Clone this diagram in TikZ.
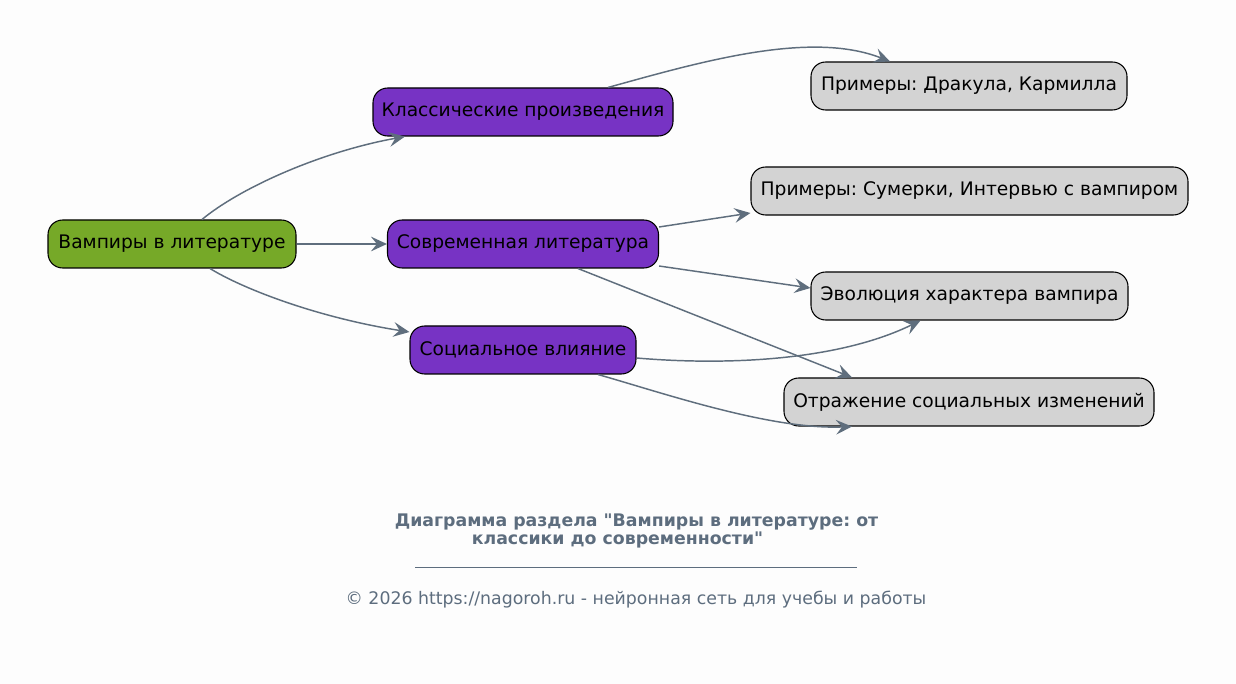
\documentclass[tikz,border=0pt]{standalone}
\usepackage{fontspec}
\setmainfont{DejaVu Sans}
\usetikzlibrary{arrows.meta,calc}
\definecolor{bgc}{HTML}{FDFDFD}
\definecolor{edgec}{HTML}{5F6E7D}
\definecolor{rootc}{HTML}{76A928}
\definecolor{midc}{HTML}{7733C4}
\definecolor{leafc}{HTML}{D3D3D3}
\definecolor{capc}{HTML}{5D6D7E}
\tikzset{
  box/.style={draw=black, line width=0.8pt, rounded corners=11pt, minimum height=36pt,
    inner sep=0pt, font=\fontsize{14pt}{16pt}\selectfont, text=black},
  rootbox/.style={box, fill=rootc},
  midbox/.style={box, fill=midc},
  leafbox/.style={box, fill=leafc},
  conn/.style={draw=edgec, line width=1.1pt, -{Stealth[length=12pt, width=11pt, inset=4.5pt]}},
  captext/.style={text=capc, font=\fontsize{13pt}{15pt}\selectfont\bfseries},
  foottext/.style={text=capc, font=\fontsize{13pt}{15pt}\selectfont},
}
\frenchspacing
\begin{document}
\begin{tikzpicture}[x=0.75pt, y=-0.75pt]
\fill[bgc] (0,0) rectangle (1236,684);
\useasboundingbox (0,0) rectangle (1236,684);

\node[rootbox, minimum width=186pt] (root) at (172,244) {Вампиры в литературе};
\node[midbox, minimum width=225pt] (klass) at (523,112) {Классические произведения};
\node[midbox, minimum width=203.25pt] (sovr) at (523,244) {Современная литература};
\node[midbox, minimum width=169.5pt] (soc) at (523,350) {Социальное влияние};
\node[leafbox, minimum width=237pt] (drak) at (969,86) {Примеры: Дракула, Кармилла};
\node[leafbox, minimum width=327.75pt] (sum) at (969.5,191) {Примеры: Сумерки, Интервью с вампиром};
\node[leafbox, minimum width=237.75pt] (evo) at (969.5,296) {Эволюция характера вампира};
\node[leafbox, minimum width=277.5pt] (otr) at (969,402) {Отражение социальных изменений};

\draw[conn] ($(root.north)+(30,0)$) .. controls (240,188) and (320,152) .. ($(klass.south)+(-118,0)$);
\draw[conn] (root.east) -- (sovr.west);
\draw[conn] ($(root.south)+(38,0)$) .. controls (245,290) and (320,318) .. ($(soc.west)+(0,-18)$);
\draw[conn] ($(klass.north)+(85,0)$) .. controls (700,62) and (810,30) .. ($(drak.north)+(-79,0)$);
\draw[conn] ($(sovr.east)+(0,-17)$) -- ($(sum.west)+(0,22)$);
\draw[conn] ($(sovr.east)+(0,22)$) -- ($(evo.west)+(0,-8)$);
\draw[conn] ($(sovr.south)+(55,0)$) -- ($(otr.north)+(-117,0)$);
\draw[conn] ($(soc.east)+(0,8)$) .. controls (730,366) and (840,360) .. ($(evo.south)+(-49,0)$);
\draw[conn] ($(soc.south)+(75,0)$) .. controls (660,392) and (770,430) .. ($(otr.south)+(-117,0)$);

\node[captext] (cap1) at (636.5,522) {Диаграмма раздела \textquotedbl Вампиры в литературе: от};
\node[captext] (cap2) at (617.5,540) {классики до современности\textquotedbl};
\coordinate (ulL) at (415,567);
\coordinate (ulR) at (857,567);
\draw[capc, line width=0.6pt] (ulL) -- (ulR);
\node[foottext] (foot) at (636,600) {© 2026 https://nagoroh.ru - нейронная сеть для учебы и работы};
\end{tikzpicture}
\end{document}
